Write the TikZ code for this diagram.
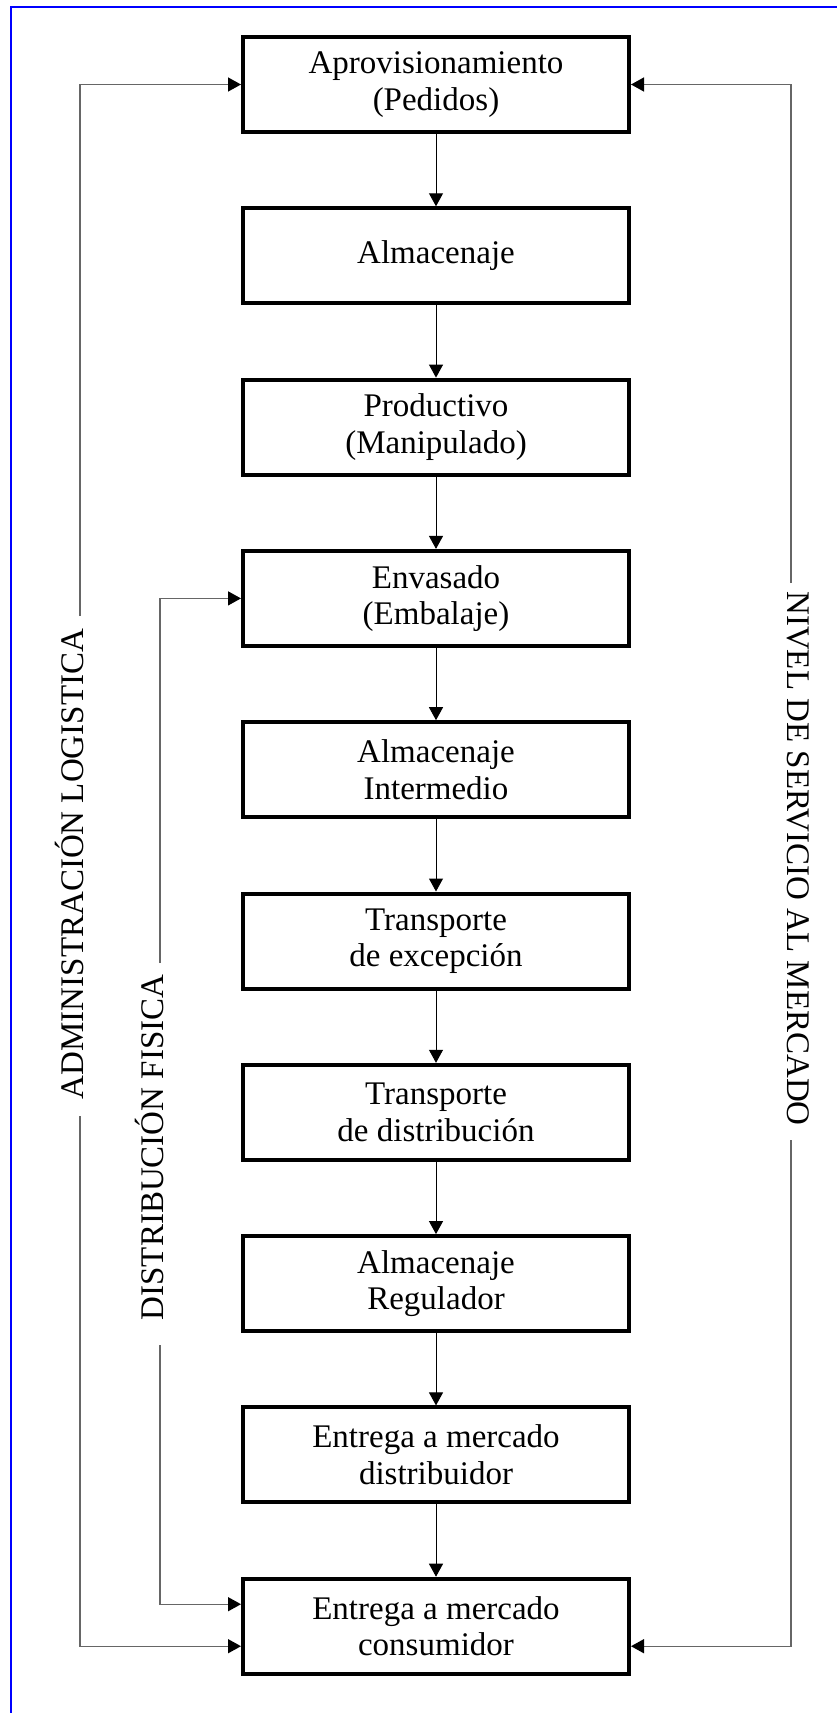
\documentclass[tikz,border=0pt]{standalone}
\usepackage{fontspec}
\setmainfont{Liberation Serif}
\usetikzlibrary{arrows.meta}
\begin{document}
\begin{tikzpicture}[x=1pt,y=-1pt,
  txt/.style={font=\fontsize{33}{36.5}\selectfont},
  box/.style={txt,draw=black,line width=4pt,minimum width=386pt,minimum height=95pt,inner sep=0pt,align=center},
  flow/.style={draw=black,line width=1pt,-{Triangle[length=13pt,width=14pt]}},
  sidearrow/.style={draw=black!60,line width=1.4pt,-{Triangle[length=13pt,width=14pt,color=black]}},
  sideline/.style={draw=black!60,line width=1.4pt},
  vlabel/.style={txt,inner sep=0pt,text height=0.66em,text depth=0pt}
]
\useasboundingbox (0,0) rectangle (837,1713);
\draw[blue,line width=2pt] (10.7,1713) -- (10.7,7) -- (837,7);

\node[box] (b1)  at (436,84.5)   {Aprovisionamiento\\(Pedidos)};
\node[box] (b2)  at (436,255.8)  {Almacenaje};
\node[box] (b3)  at (436,427.1)  {Productivo\\(Manipulado)};
\node[box] (b4)  at (436,598.4)  {Envasado\\(Embalaje)};
\node[box] (b5)  at (436,769.7)  {Almacenaje\\Intermedio};
\node[box] (b6)  at (436,941.0)  {Transporte\\de excepción};
\node[box] (b7)  at (436,1112.3) {Transporte\\de distribución};
\node[box] (b8)  at (436,1283.6) {Almacenaje\\Regulador};
\node[box] (b9)  at (436,1454.9) {Entrega a mercado\\distribuidor};
\node[box] (b10) at (436,1626.2) {Entrega a mercado\\consumidor};

\draw[flow] (b1) -- (b2);
\draw[flow] (b2) -- (b3);
\draw[flow] (b3) -- (b4);
\draw[flow] (b4) -- (b5);
\draw[flow] (b5) -- (b6);
\draw[flow] (b6) -- (b7);
\draw[flow] (b7) -- (b8);
\draw[flow] (b8) -- (b9);
\draw[flow] (b9) -- (b10);

\node[vlabel,rotate=90]  (adm) at (80,864)    {ADMINISTRACIÓN LOGISTICA};
\node[vlabel,rotate=90]  (dis) at (160,1147.5) {DISTRIBUCIÓN FISICA};
\node[vlabel,rotate=-90] (niv) at (791,858.5) {NIVEL DE SERVICIO AL MERCADO};

\coordinate (adm1) at (80,616);
\coordinate (adm2) at (80,1116);
\coordinate (dis1) at (160,963);
\coordinate (dis2) at (160,1345);
\coordinate (niv1) at (791,583);
\coordinate (niv2) at (791,1140);

\draw[sidearrow] (adm1) |- (b1.west);
\draw[sidearrow] (adm2) |- ([yshift=-20pt]b10.west);
\draw[sidearrow] (dis1) |- (b4.west);
\draw[sidearrow] (dis2) |- ([yshift=22pt]b10.west);
\draw[sidearrow] (niv1) |- (b1.east);
\draw[sidearrow] (niv2) |- ([yshift=-20pt]b10.east);
\end{tikzpicture}
\end{document}
